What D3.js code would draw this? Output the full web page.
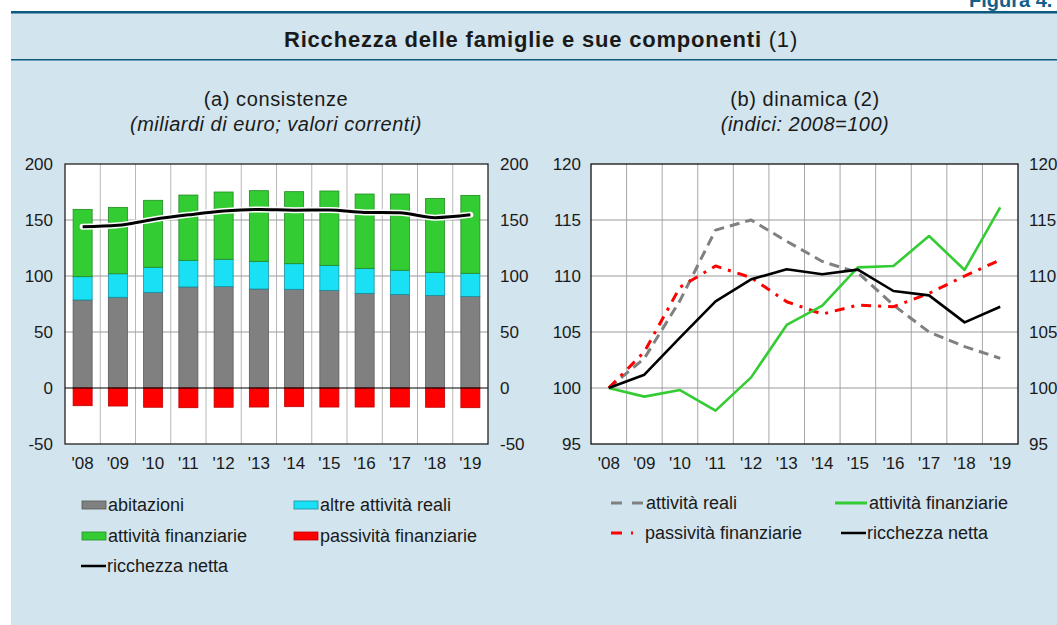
<!DOCTYPE html>
<html><head><meta charset="utf-8">
<script src="https://cdn.jsdelivr.net/npm/d3@7"></script>
<style>
body{margin:0;background:#fff;}
svg text{font-family:"Liberation Sans",Arial,Helvetica,sans-serif;fill:#1a1a1a;}
</style></head>
<body><svg id="c" width="1057" height="625"></svg>
<script>
// ---- data ----
const years = ["'08","'09","'10","'11","'12","'13","'14","'15","'16","'17","'18","'19"];
// (a) consistenze, miliardi di euro
const abitazioni = [78.6, 81.0, 85.4, 90.2, 90.5, 88.4, 88.1, 87.2, 84.5, 83.6, 82.7, 81.8];
const altreAttivitaReali = [20.8, 21.0, 22.4, 23.8, 24.4, 24.7, 22.9, 22.3, 22.3, 21.5, 20.6, 20.6];
const attivitaFinanziarie = [60.1, 59.3, 59.8, 58.3, 60.1, 63.1, 64.3, 66.4, 66.4, 68.1, 66.0, 69.6];
const passivitaFinanziarie = [-15.8, -16.1, -17.2, -17.6, -17.2, -17.0, -16.7, -17.0, -17.0, -17.0, -17.2, -17.6];
const ricchezzaNetta = [144.0, 145.3, 150.5, 154.6, 158.0, 159.3, 158.8, 158.9, 156.8, 156.4, 152.1, 154.6];
const leftTicks = [-50, 0, 50, 100, 150, 200];
// (b) dinamica, indici 2008=100
const idxAttivitaReali = [100, 102.65, 107.8, 114.1, 115.0, 113.1, 111.3, 110.3, 107.4, 105.0, 103.7, 102.65];
const idxAttivitaFinanziarie = [100, 99.23, 99.82, 97.98, 100.95, 105.63, 107.35, 110.77, 110.89, 113.57, 110.54, 116.13];
const idxPassivitaFinanziarie = [100, 103.24, 109.0, 110.9, 109.85, 107.7, 106.6, 107.4, 107.26, 108.45, 110.0, 111.43];
const idxRicchezzaNetta = [100, 101.19, 104.5, 107.74, 109.7, 110.6, 110.15, 110.57, 108.66, 108.27, 105.86, 107.26];
const rightTicks = [95, 100, 105, 110, 115, 120];

const C = {gray:"#808080", cyan:"#1ae0f5", green:"#33cc33", red:"#ff0000", black:"#000"};

const svg = d3.select("#c");
// background panel
svg.append("rect").attr("x",11).attr("y",12).attr("width",1046).attr("height",613).attr("fill","#d2e4ee");
svg.append("rect").attr("x",11).attr("y",11).attr("width",1046).attr("height",2.5).attr("fill","#0c5a80");
svg.append("rect").attr("x",11).attr("y",59).attr("width",1046).attr("height",1.5).attr("fill","#0c5a80");
svg.append("text").attr("x",969).attr("y",7).attr("font-size",20).attr("font-weight","bold").style("fill","#15608a").text("Figura 4.");

const t = svg.append("text").attr("x",541).attr("y",47).attr("text-anchor","middle").attr("font-size",22).attr("letter-spacing",0.8);
t.append("tspan").attr("font-weight","bold").text("Ricchezza delle famiglie e sue componenti");
t.append("tspan").text(" (1)");

function subtitles(cx, a, b){
  svg.append("text").attr("x",cx).attr("y",106).attr("text-anchor","middle").attr("font-size",20).attr("letter-spacing",0.6).text(a);
  svg.append("text").attr("x",cx).attr("y",131).attr("text-anchor","middle").attr("font-size",20).attr("letter-spacing",0.5).attr("font-style","italic").text(b);
}
subtitles(276,"(a) consistenze","(miliardi di euro; valori correnti)");
subtitles(805,"(b) dinamica (2)","(indici: 2008=100)");

function frame(x0,x1,y){
  const g = svg.append("g");
  g.append("rect").attr("x",x0).attr("y",y.range()[1]).attr("width",x1-x0).attr("height",y.range()[0]-y.range()[1]).attr("fill","#fff");
  return g;
}
function styleAxis(a){
  a.select(".domain").remove();
  a.selectAll("text").attr("font-size",17).style("font-family","'Liberation Sans',Arial,sans-serif").attr("fill","#1a1a1a");
}
const fmt = d => String(d);

// ---------- left chart ----------
{
  const x0=65, x1=488, yT=164, yB=444;
  const x = d3.scaleBand().domain(years).range([x0,x1]).paddingInner(0.46).paddingOuter(0.23);
  const xb = d3.scaleBand().domain(years).range([x0,x1]);
  const y = d3.scaleLinear().domain([-50,200]).range([yB,yT]);
  const g = frame(x0,x1,y);
  g.selectAll(".vg").data(years.slice(1)).join("line").attr("x1",d=>xb(d)).attr("x2",d=>xb(d))
    .attr("y1",yT).attr("y2",yB).attr("stroke","#b8b8b8").attr("stroke-width",1);
  g.selectAll(".hg").data(leftTicks.filter(v=>v!==0&&v!==-50&&v!==200)).join("line").attr("x1",x0).attr("x2",x1)
    .attr("y1",d=>y(d)).attr("y2",d=>y(d)).attr("stroke","#999").attr("stroke-width",1);
  const rows = years.map((yr,i)=>({yr, abitazioni:abitazioni[i], altre:altreAttivitaReali[i], fin:attivitaFinanziarie[i]}));
  const stack = d3.stack().keys(["abitazioni","altre","fin"])(rows);
  const cols = {abitazioni:C.gray, altre:C.cyan, fin:C.green};
  const strokes = {abitazioni:"#5a5a5a", altre:"#1590a0", fin:"#228a22"};
  stack.forEach(s=>{
    g.selectAll(null).data(s).join("rect").attr("x",d=>x(d.data.yr)).attr("width",x.bandwidth())
      .attr("y",d=>y(d[1])).attr("height",d=>y(d[0])-y(d[1]))
      .attr("fill",cols[s.key]).attr("stroke",strokes[s.key]).attr("stroke-width",0.8);
  });
  g.selectAll(null).data(passivitaFinanziarie).join("rect").attr("x",(d,i)=>x(years[i])).attr("width",x.bandwidth())
    .attr("y",y(0)).attr("height",d=>y(d)-y(0)).attr("fill",C.red).attr("stroke","#b00").attr("stroke-width",0.8);
  g.append("line").attr("x1",x0).attr("x2",x1).attr("y1",y(0)).attr("y2",y(0)).attr("stroke","#000").attr("stroke-width",1.2);
  const line = d3.line().x((d,i)=>xb(years[i])+xb.bandwidth()/2).y(d=>y(d)).curve(d3.curveMonotoneX);
  g.append("path").attr("d",line(ricchezzaNetta)).attr("fill","none").attr("stroke","#fff").attr("stroke-width",6).attr("stroke-linecap","round");
  g.append("path").attr("d",line(ricchezzaNetta)).attr("fill","none").attr("stroke","#000").attr("stroke-width",3);
  g.append("rect").attr("x",x0).attr("y",yT).attr("width",x1-x0).attr("height",yB-yT).attr("fill","none").attr("stroke","#222").attr("stroke-width",1.3);
  const gl = svg.append("g").attr("transform",`translate(${x0},0)`).call(d3.axisLeft(y).tickValues(leftTicks).tickFormat(fmt).tickSize(0).tickPadding(12));
  const gr = svg.append("g").attr("transform",`translate(${x1},0)`).call(d3.axisRight(y).tickValues(leftTicks).tickFormat(fmt).tickSize(0).tickPadding(12));
  const gb = svg.append("g").attr("transform",`translate(0,${yB})`).call(d3.axisBottom(xb).tickSize(0).tickPadding(10));
  [gl,gr,gb].forEach(styleAxis);
  gb.selectAll("text").attr("dy","0.9em");

  const lg = svg.append("g");
  const items = [
    {t:"abitazioni",c:C.gray,s:"#555",x:82,y:505},
    {t:"altre attività reali",c:C.cyan,s:"#1590a0",x:294,y:505},
    {t:"attività finanziarie",c:C.green,s:"#228a22",x:82,y:536},
    {t:"passività finanziarie",c:C.red,s:"#b00",x:294,y:536},
  ];
  items.forEach(it=>{
    lg.append("rect").attr("x",it.x).attr("y",it.y-4).attr("width",24).attr("height",8).attr("fill",it.c).attr("stroke",it.s).attr("stroke-width",0.8);
    lg.append("text").attr("x",it.x+26).attr("y",it.y+6).attr("font-size",18).text(it.t);
  });
  lg.append("line").attr("x1",81).attr("x2",106).attr("y1",566).attr("y2",566).attr("stroke","#000").attr("stroke-width",2.5);
  lg.append("text").attr("x",107).attr("y",572).attr("font-size",18).text("ricchezza netta");
}

// ---------- right chart ----------
{
  const x0=591, x1=1018, yT=164, yB=444;
  const xb = d3.scaleBand().domain(years).range([x0,x1]);
  const y = d3.scaleLinear().domain([95,120]).range([yB,yT]);
  const g = frame(x0,x1,y);
  g.selectAll(".vg").data(years.slice(1)).join("line").attr("x1",d=>xb(d)).attr("x2",d=>xb(d))
    .attr("y1",yT).attr("y2",yB).attr("stroke","#a8a8a8").attr("stroke-width",1);
  g.selectAll(".hg").data([100,105,110,115]).join("line").attr("x1",x0).attr("x2",x1)
    .attr("y1",d=>y(d)).attr("y2",d=>y(d)).attr("stroke","#999").attr("stroke-width",1);
  const line = d3.line().x((d,i)=>xb(years[i])+xb.bandwidth()/2).y(d=>y(d));
  const series = [
    {v:idxAttivitaReali,c:C.gray,w:3,dash:"10,6"},
    {v:idxPassivitaFinanziarie,c:C.red,w:3,dash:"10,7,3,7"},
    {v:idxAttivitaFinanziarie,c:C.green,w:2.6,dash:null},
    {v:idxRicchezzaNetta,c:C.black,w:2.6,dash:null},
  ];
  series.forEach(s=>{
    g.append("path").attr("d",line(s.v)).attr("fill","none").attr("stroke",s.c).attr("stroke-width",s.w)
      .attr("stroke-dasharray",s.dash).attr("stroke-linejoin","round");
  });
  g.append("rect").attr("x",x0).attr("y",yT).attr("width",x1-x0).attr("height",yB-yT).attr("fill","none").attr("stroke","#111").attr("stroke-width",1.3);
  const gl = svg.append("g").attr("transform",`translate(${x0},0)`).call(d3.axisLeft(y).tickValues(rightTicks).tickFormat(fmt).tickSize(0).tickPadding(10));
  const gr = svg.append("g").attr("transform",`translate(${x1},0)`).call(d3.axisRight(y).tickValues(rightTicks).tickFormat(fmt).tickSize(0).tickPadding(11));
  const gb = svg.append("g").attr("transform",`translate(0,${yB})`).call(d3.axisBottom(xb).tickSize(0).tickPadding(10));
  [gl,gr,gb].forEach(styleAxis);
  gb.selectAll("text").attr("dy","0.9em");

  const lg = svg.append("g");
  lg.append("line").attr("x1",611).attr("x2",643).attr("y1",503).attr("y2",503).attr("stroke",C.gray).attr("stroke-width",3).attr("stroke-dasharray","11,10");
  lg.append("text").attr("x",646).attr("y",509).attr("font-size",18).text("attività reali");
  lg.append("line").attr("x1",835).attr("x2",867).attr("y1",503).attr("y2",503).attr("stroke",C.green).attr("stroke-width",3);
  lg.append("text").attr("x",869).attr("y",509).attr("font-size",18).text("attività finanziarie");
  lg.append("line").attr("x1",611).attr("x2",634).attr("y1",533).attr("y2",533).attr("stroke",C.red).attr("stroke-width",3).attr("stroke-dasharray","11,9,2,20");
  lg.append("text").attr("x",645).attr("y",539).attr("font-size",18).text("passività finanziarie");
  lg.append("line").attr("x1",841).attr("x2",866).attr("y1",533).attr("y2",533).attr("stroke","#000").attr("stroke-width",2.5);
  lg.append("text").attr("x",867).attr("y",539).attr("font-size",18).text("ricchezza netta");
}
</script></body></html>
